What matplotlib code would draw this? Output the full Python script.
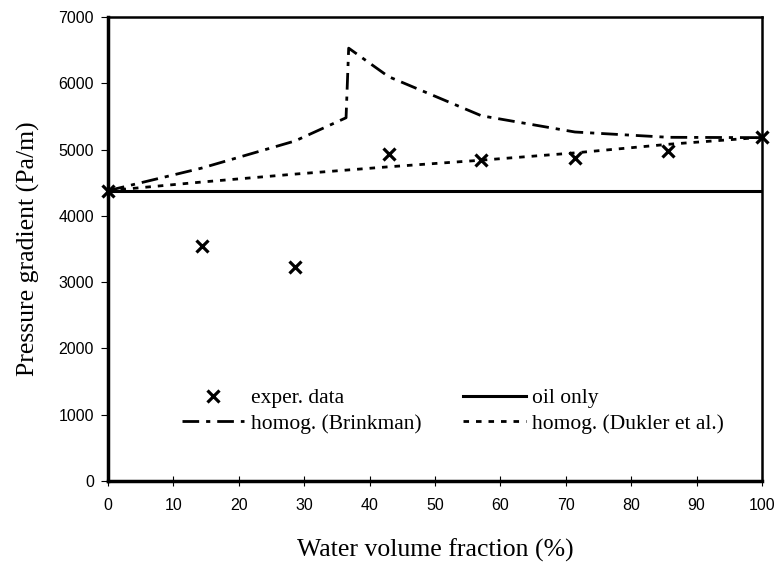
import matplotlib
matplotlib.use("Agg")
import matplotlib.pyplot as plt

# Data
exp_x = [0, 14.3, 28.6, 42.9, 57.1, 71.4, 85.7, 100]
exp_y = [4380, 3550, 3230, 4940, 4840, 4870, 4980, 5185]

oil_x = [0, 100]
oil_y = [4380, 4380]

brink_x = [0, 14.3, 28.6, 36.4, 36.8, 42.9, 57.1, 71.4, 85.7, 100]
brink_y = [4380, 4720, 5130, 5480, 6530, 6100, 5510, 5265, 5185, 5180]

dukler_x = [0, 14.3, 28.6, 42.9, 57.1, 71.4, 85.7, 100]
dukler_y = [4380, 4510, 4630, 4740, 4840, 4950, 5080, 5185]

xticks = list(range(0, 101, 10))
yticks = list(range(0, 7001, 1000))

fig = plt.figure(figsize=(7.77, 5.63), dpi=100)
ax = fig.add_axes([108/777, 1-481/563, (762-108)/777, (481-17)/563])

serif = ["Liberation Serif", "DejaVu Serif"]
sans = ["Liberation Sans", "DejaVu Sans"]

h_exp, = ax.plot(exp_x, exp_y, linestyle="none", marker="x", markersize=9,
                 markeredgewidth=2.3, color="black", label="exper. data",
                 zorder=5, clip_on=False)
h_oil, = ax.plot(oil_x, oil_y, color="black", linewidth=2.2, label="oil only")
h_br, = ax.plot(brink_x, brink_y, color="black", linewidth=2.0,
                dashes=(6, 2.5, 1.5, 2.5), label="homog. (Brinkman)")
h_du, = ax.plot(dukler_x, dukler_y, color="black", linewidth=2.0,
                dashes=(2, 2.5), label="homog. (Dukler et al.)")

ax.set_xlim(0, 100)
ax.set_ylim(0, 7000)
ax.set_xticks(xticks)
ax.set_yticks(yticks)
ax.tick_params(axis="y", direction="out", length=5, width=0.8, labelsize=11.5, pad=5)
ax.tick_params(axis="x", direction="inout", length=7, width=0.8, labelsize=11.5, pad=9)
for lab in ax.get_xticklabels() + ax.get_yticklabels():
    lab.set_family(sans)

ax.spines["left"].set_linewidth(2.5)
ax.spines["bottom"].set_linewidth(2.5)
ax.spines["top"].set_linewidth(1.8)
ax.spines["right"].set_linewidth(1.8)

ax.set_xlabel("Water volume fraction (%)", family=serif, fontsize=18.5, labelpad=18)
ax.set_ylabel("Pressure gradient (Pa/m)", family=serif, fontsize=18.5, labelpad=13)

leg = ax.legend([h_exp, h_br, h_oil, h_du],
                ["exper. data", "homog. (Brinkman)", "oil only", "homog. (Dukler et al.)"],
                ncol=2, frameon=False, loc="center left",
                bbox_to_anchor=((182-108)/654, 1-(411-17)/464),
                prop={"family": serif, "size": 15.5},
                handlelength=2.9, handletextpad=0.3, columnspacing=1.95,
                labelspacing=0.25, numpoints=1, borderaxespad=0, borderpad=0)

fig.savefig("out.png", dpi=100)
